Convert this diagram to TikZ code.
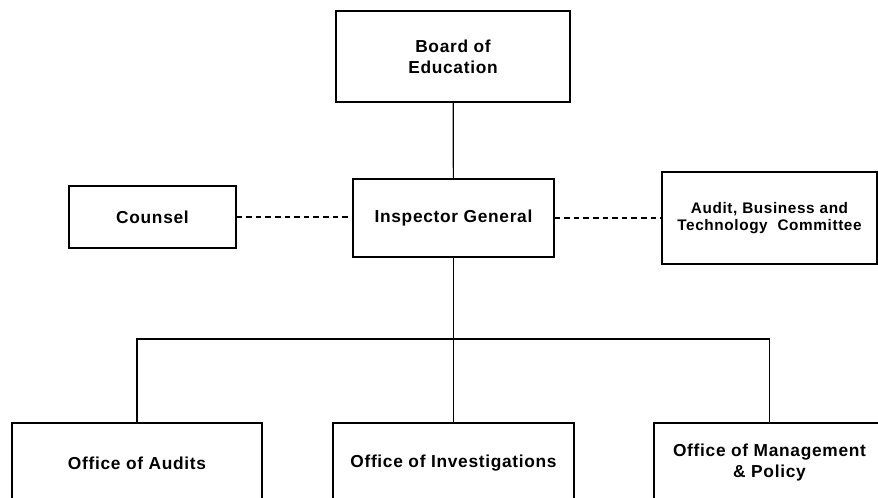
\documentclass[tikz,border=0pt]{standalone}
\usepackage{fontspec}
\newfontfamily\chartfont{Liberation Sans}[LetterSpace=4]
\usepackage{tikz}

\begin{document}
\begin{tikzpicture}[x=0.75pt,y=0.75pt,yscale=-1,xscale=1,
  orgbox/.style={draw, line width=1pt, inner sep=0pt, align=center,
    font=\chartfont\bfseries\fontsize{13}{15.75}\selectfont},
  smallbox/.style={orgbox, font=\chartfont\bfseries\fontsize{11.5}{12.75}\selectfont},
  link/.style={line width=0.9pt},
  dashlink/.style={line width=0.9pt, dash pattern=on 4.2pt off 3pt}]
\clip (0,0) rectangle (878,497);
\node [orgbox, minimum width=175.5pt, minimum height=68.25pt] (board) at (453,56.5) {Board of\\Education};
\node [orgbox, minimum width=150.75pt, minimum height=58.5pt] (ig) at (453.5,218) {Inspector General};
\node [orgbox, minimum width=125.25pt, minimum height=46.5pt] (counsel) at (152.5,217) {Counsel};
\node [smallbox, minimum width=161.25pt, minimum height=69pt] (abt) at (769.5,218) {Audit, Business and\\Technology\ \ Committee};
\node [orgbox, minimum width=187.5pt, minimum height=60pt] (audits) at (137,463) {Office of Audits};
\node [orgbox, minimum width=180.75pt, minimum height=60pt] (invest) at (453.5,463) {Office of Investigations};
\node [orgbox, minimum width=173.25pt, minimum height=60pt] (mgmt) at (769.5,463) {Office of Management\\\& Policy};
\coordinate (bus) at (453.5,339);
% connectors
\draw [link] (board) -- (ig);
\draw [link] (ig) -- (invest);
\draw [link] (audits.north) |- (bus) -| (mgmt.north);
\draw [dashlink] (counsel.east) -- (counsel.east -| ig.west);
\draw [dashlink] (ig.east) -- (ig.east -| abt.west);
\end{tikzpicture}
\end{document}
